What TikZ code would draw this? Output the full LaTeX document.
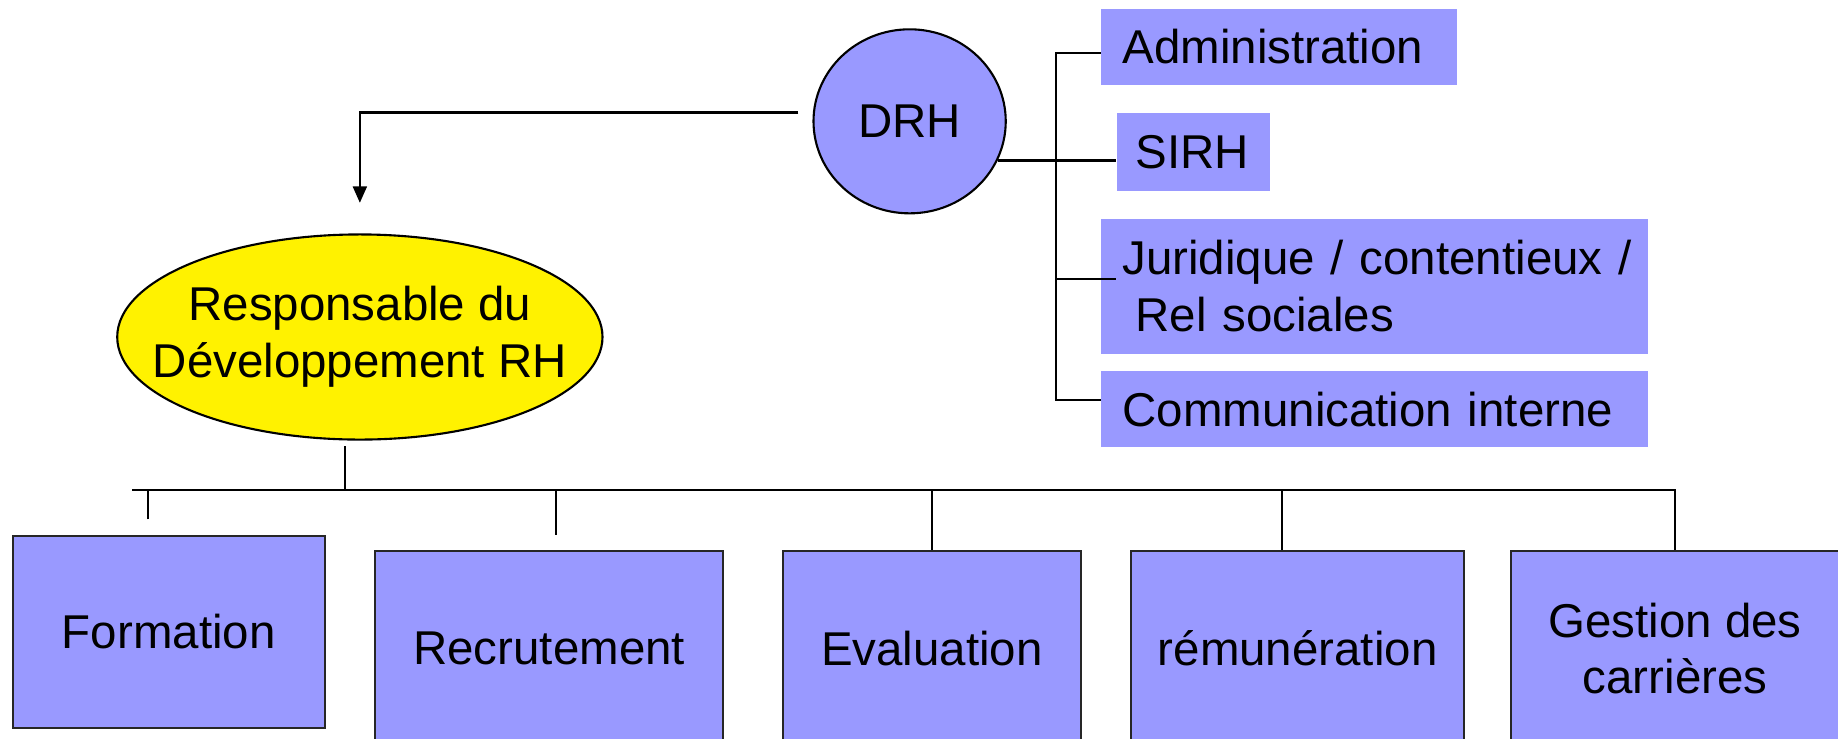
\documentclass[tikz,border=0pt]{standalone}
\usepackage{fontspec}
\setmainfont{Liberation Sans}
\usetikzlibrary{arrows.meta,shapes.geometric}
\definecolor{Lavande}{HTML}{9999FF}

\begin{document}
\begin{tikzpicture}[x=0.01172cm,y=-0.01172cm,font=\fontsize{13.5}{16}\selectfont]
		\def\u{0.01172cm}
		\tikzstyle{LineStyle}    = [line width=0.6pt]
		\tikzstyle{ServiceStyle} = [shape=rectangle, fill=Lavande, anchor=north west, inner sep=0pt, align=left]
		\tikzstyle{PosteStyle}   = [shape=rectangle, fill=Lavande, draw=black!85, line width=0.6pt, align=center, inner sep=0pt]
		
		\clip (0,0) rectangle (1568,630);
		\node[ellipse, draw, fill=Lavande, line width=0.6pt, inner sep=0pt, minimum width=164*\u, minimum height=157*\u] (DRH) at (776,103.5) {DRH};
		\node[ellipse, draw, fill=yellow, line width=0.6pt, inner sep=0pt, minimum width=414*\u, minimum height=175*\u,
			label={[align=center, font=\fontsize{13.5}{16.3}\selectfont]center:Responsable du\\ Développement RH}] (Resp) at (307,287.5) {};
		
		\node[ServiceStyle, text width=3.551cm, minimum height=65*\u] (Administration) at (939,7) {\hspace*{0.211cm}Administration};
		\node[ServiceStyle, text width=1.535cm, minimum height=66*\u] (SIRH) at (952,96) {\hspace*{0.188cm}SIRH};
		\node[ServiceStyle, text width=5.462cm, minimum height=115*\u] (Juridique) at (939,186) {\hspace*{0.211cm}Juridique / contentieux /\\\hspace*{0.34cm}Rel sociales};
		\node[ServiceStyle, text width=5.462cm, minimum height=65*\u] (Communication) at (939,316) {\hspace*{0.211cm}Communication interne};
		
		\node[PosteStyle, minimum width=266*\u, minimum height=164*\u] (Formation) at (144,539) {Formation};
		\node[PosteStyle, minimum width=297*\u, minimum height=166*\u] (Recrutement) at (468.5,553) {Recrutement};
		\node[PosteStyle, minimum width=254*\u, minimum height=166*\u] (Evaluation) at (795,553) {Evaluation};
		\node[PosteStyle, minimum width=284*\u, minimum height=166*\u] (Remuneration) at (1107,553) {rémunération};
		\node[PosteStyle, minimum width=280*\u, minimum height=166*\u] (Gestion) at (1429,553) {Gestion des\\ carrières};
		
		% DRH vers le responsable
		\coordinate (RespArrow) at (307,173);
		\draw[LineStyle, -{Triangle[length=4.7pt,width=4pt]}] ([xshift=-12*\u, yshift=7.5*\u]DRH.west) -| (RespArrow);
		
		% services rattaches a la DRH
		\coordinate (BarTop) at (901,45); \coordinate (BarJur) at (901,238); \coordinate (BarBot) at (901,341);
		\coordinate (JurTap) at ([xshift=13*\u]Juridique.west);
		\draw[LineStyle] (Administration.west |- BarTop) -- (BarTop) -- (BarBot) -- (Communication.west |- BarBot);
		\draw[LineStyle] (BarJur) -- (JurTap |- BarJur);
		\draw[LineStyle] (DRH.-24) -- (DRH.-24 -| SIRH.west);
		
		% postes du developpement RH
		\coordinate (BusL) at (113,418); \coordinate (BusR) at (Gestion.north |- BusL);
		\coordinate (Stub) at ([xshift=-12.5*\u]Resp.south);
		\coordinate (FormTop) at ([xshift=-18*\u, yshift=13*\u]Formation.north);
		\coordinate (RecrTop) at ([xshift=6*\u, yshift=13*\u]Recrutement.north);
		\coordinate (RemuTop) at ([xshift=-13*\u]Remuneration.north);
		\draw[LineStyle] (BusL) -- (BusR) -- (Gestion.north);
		\draw[LineStyle] ([yshift=-5*\u]Stub) -- (Stub |- BusL);
		\draw[LineStyle] (FormTop) -- (FormTop |- BusL); \draw[LineStyle] (RecrTop) -- (RecrTop |- BusL);
		\draw[LineStyle] (Evaluation.north) -- (Evaluation.north |- BusL); \draw[LineStyle] (RemuTop) -- (RemuTop |- BusL);
	\end{tikzpicture}
\end{document}
